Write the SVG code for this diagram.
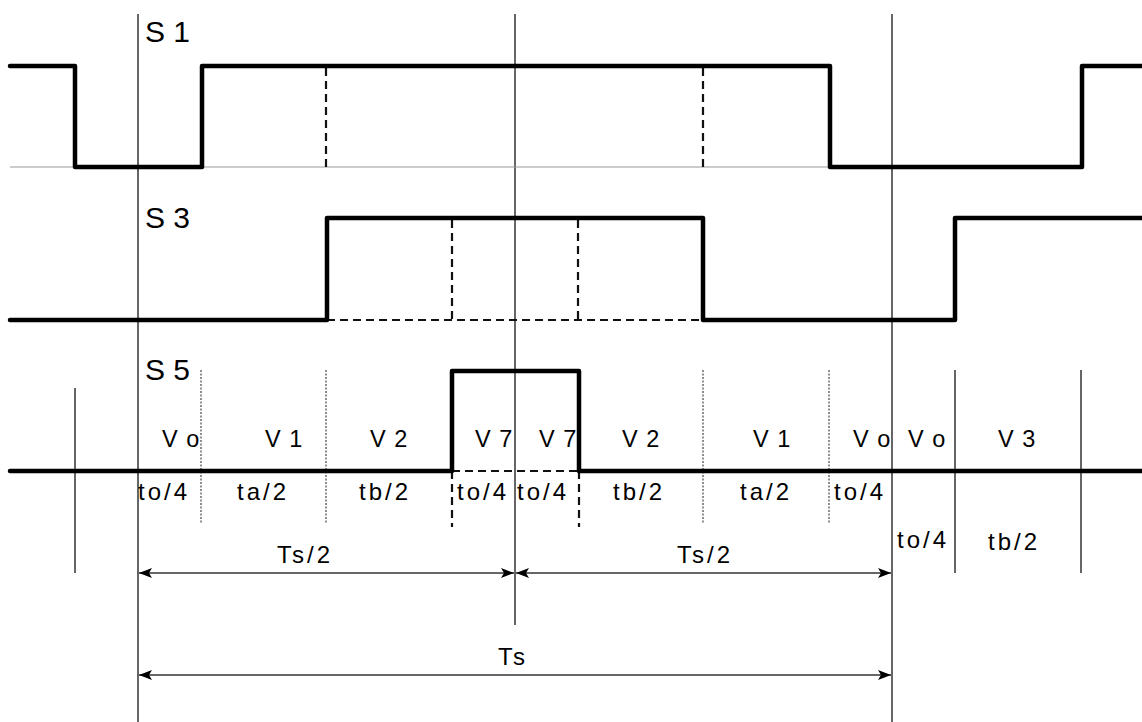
<svg xmlns="http://www.w3.org/2000/svg" width="1142" height="722" viewBox="0 0 1142 722">
<style>
.wave{fill:none;stroke:#000;stroke-width:4.5;stroke-linejoin:round;stroke-linecap:round}
.dash{fill:none;stroke:#111;stroke-width:2.2;stroke-dasharray:8 5}
.dot{fill:none;stroke:#333;stroke-width:1.1;stroke-dasharray:2 1.5}
.grid{fill:none;stroke:#333;stroke-width:1.5}
.base{fill:none;stroke:#999;stroke-width:1.2}
.dim{fill:none;stroke:#333;stroke-width:1.5}
.sig{font-family:"Liberation Sans",Arial,sans-serif;font-size:30px;fill:#000}
.lab{font-family:"Liberation Sans",Arial,sans-serif;font-size:23.5px;fill:#000;letter-spacing:1px}
.tl{font-family:"Liberation Sans",Arial,sans-serif;font-size:24px;fill:#000;letter-spacing:3px}
</style>
<defs>
<marker id="ah" markerUnits="userSpaceOnUse" markerWidth="14" markerHeight="10" refX="13" refY="5" orient="auto-start-reverse">
<path d="M0,0 L13,5 L0,10 L3,5 Z" fill="#000"/>
</marker>
</defs>
<g id="gridlines">
<line class="grid" x1="138" y1="14" x2="138" y2="722"/>
<line class="grid" x1="515" y1="14" x2="515" y2="625"/>
<line class="grid" x1="892" y1="14" x2="892" y2="722"/>
<line class="base" x1="10" y1="167" x2="830" y2="167"/>
<line class="grid" x1="75" y1="388" x2="75" y2="573"/>
<line class="grid" x1="955" y1="370" x2="955" y2="573"/>
<line class="grid" x1="1081" y1="370" x2="1081" y2="573"/>
<line class="dot" x1="201" y1="370" x2="201" y2="523"/>
<line class="dot" x1="326" y1="370" x2="326" y2="523"/>
<line class="dot" x1="703" y1="370" x2="703" y2="523"/>
<line class="dot" x1="829" y1="370" x2="829" y2="523"/>
</g>
<g id="S1">
<line class="dash" x1="326" y1="68" x2="326" y2="167"/>
<line class="dash" x1="703" y1="68" x2="703" y2="167"/>
<path class="wave" d="M10,66 H75 V167 H202 V66 H830 V167 H1082 V66 H1142"/>
<text class="sig" x="145" y="42">S 1</text>
</g>
<g id="S3">
<line class="dash" x1="452" y1="220" x2="452" y2="320"/>
<line class="dash" x1="578" y1="220" x2="578" y2="320"/>
<line class="dash" x1="327" y1="320" x2="703" y2="320"/>
<path class="wave" d="M10,320 H327 V218 H703 V320 H955 V218 H1142"/>
<text class="sig" x="145" y="228">S 3</text>
</g>
<g id="S5">
<line class="dash" x1="452" y1="471" x2="579" y2="471"/>
<line class="dash" x1="452" y1="471" x2="452" y2="527"/>
<line class="dash" x1="579" y1="471" x2="579" y2="527"/>
<path class="wave" d="M10,471 H452 V371 H579 V471 H1142"/>
<text class="sig" x="145" y="380">S 5</text>
</g>
<g id="vectors">
<text class="lab" x="162" y="447">V o</text>
<text class="lab" x="265" y="447">V 1</text>
<text class="lab" x="370" y="447">V 2</text>
<text class="lab" x="475" y="447">V 7</text>
<text class="lab" x="539" y="447">V 7</text>
<text class="lab" x="622" y="447">V 2</text>
<text class="lab" x="753" y="447">V 1</text>
<text class="lab" x="853" y="447">V o</text>
<text class="lab" x="908" y="447">V o</text>
<text class="lab" x="998" y="447">V 3</text>
</g>
<g id="times">
<text class="tl" x="138" y="500">to/4</text>
<text class="tl" x="237" y="500">ta/2</text>
<text class="tl" x="359" y="500">tb/2</text>
<text class="tl" x="457" y="500">to/4</text>
<text class="tl" x="517" y="500">to/4</text>
<text class="tl" x="613" y="500">tb/2</text>
<text class="tl" x="740" y="500">ta/2</text>
<text class="tl" x="834" y="500">to/4</text>
<text class="tl" x="897" y="548">to/4</text>
<text class="tl" x="988" y="550">tb/2</text>
<text class="tl" x="277" y="563">Ts/2</text>
<text class="tl" x="677" y="563">Ts/2</text>
<text class="tl" x="498" y="665">Ts</text>
</g>
<g id="connectors">
<line class="dim" x1="139" y1="573" x2="514" y2="573" marker-start="url(#ah)" marker-end="url(#ah)"/>
<line class="dim" x1="516" y1="573" x2="891" y2="573" marker-start="url(#ah)" marker-end="url(#ah)"/>
<line class="dim" x1="139" y1="675" x2="891" y2="675" marker-start="url(#ah)" marker-end="url(#ah)"/>
</g>
</svg>
